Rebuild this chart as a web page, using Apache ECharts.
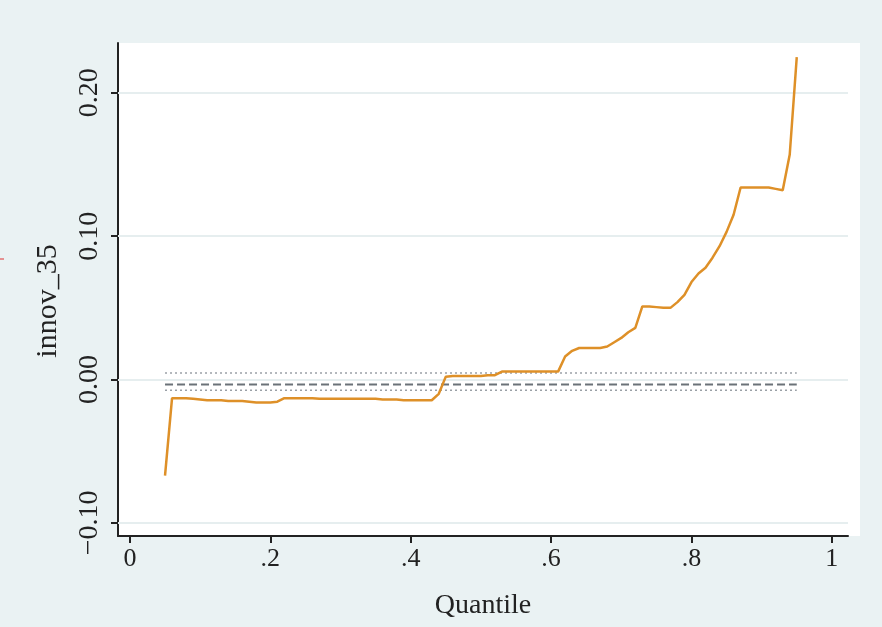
<!DOCTYPE html>
<html>
<head>
<meta charset="utf-8">
<script src="https://cdn.jsdelivr.net/npm/echarts@6/dist/echarts.min.js"></script>
<style>html,body{margin:0;padding:0;background:#eaf2f3;}#chart{width:882px;height:627px;}</style>
</head>
<body>
<div id="chart"></div>
<script>
// Quantiles and quantile-regression coefficients (innov_35)
const quantiles = [0.05,0.06,0.07,0.08,0.09,0.10,0.11,0.12,0.13,0.14,0.15,0.16,0.17,0.18,0.19,0.20,0.21,0.22,0.23,0.24,0.25,0.26,0.27,0.28,0.29,0.30,0.31,0.32,0.33,0.34,0.35,0.36,0.37,0.38,0.39,0.40,0.41,0.42,0.43,0.44,0.45,0.46,0.47,0.48,0.49,0.50,0.51,0.52,0.53,0.54,0.55,0.56,0.57,0.58,0.59,0.60,0.61,0.62,0.63,0.64,0.65,0.66,0.67,0.68,0.69,0.70,0.71,0.72,0.73,0.74,0.75,0.76,0.77,0.78,0.79,0.80,0.81,0.82,0.83,0.84,0.85,0.86,0.87,0.88,0.89,0.90,0.91,0.92,0.93,0.94,0.95];
const coefs = [-0.067,-0.013,-0.013,-0.013,-0.0135,-0.014,-0.0145,-0.0145,-0.0145,-0.015,-0.015,-0.015,-0.0155,-0.016,-0.016,-0.016,-0.0155,-0.013,-0.013,-0.013,-0.013,-0.013,-0.0135,-0.0135,-0.0135,-0.0135,-0.0135,-0.0135,-0.0135,-0.0135,-0.0135,-0.014,-0.014,-0.014,-0.0145,-0.0145,-0.0145,-0.0145,-0.0145,-0.010,0.002,0.0025,0.0025,0.0025,0.0025,0.0025,0.003,0.003,0.0055,0.0055,0.0055,0.0055,0.0055,0.0055,0.0055,0.0055,0.0055,0.016,0.020,0.022,0.022,0.022,0.022,0.023,0.026,0.029,0.033,0.036,0.051,0.051,0.0505,0.050,0.050,0.054,0.059,0.068,0.074,0.078,0.085,0.093,0.103,0.115,0.134,0.134,0.134,0.134,0.134,0.133,0.132,0.157,0.225];
// OLS estimate and its confidence bounds
const olsEstimate = -0.0035;
const olsUpper = 0.0045;
const olsLower = -0.0075;
const olsSpan = [0.05, 0.95];
// Tick values
const xTicks = [0, 0.2, 0.4, 0.6, 0.8, 1];
const xTickLabels = ['0', '.2', '.4', '.6', '.8', '1'];
const yTicks = [-0.1, 0, 0.1, 0.2];
const yTickLabels = ['\u22120.10', '0.00', '0.10', '0.20'];
const xTitle = 'Quantile';
const yTitle = 'innov_35';

const FONT = 'Liberation Serif';
const chart = echarts.init(document.getElementById('chart'));
const hLine = (v) => olsSpan.map(q => [q, v]);

chart.setOption({
  backgroundColor: '#eaf2f3',
  animation: false,
  grid: { left: 118, right: 34, top: 43, bottom: 91, show: true, backgroundColor: '#ffffff', borderWidth: 0 },
  xAxis: {
    type: 'value', min: -0.017, max: 1.023,
    name: xTitle, nameLocation: 'middle', nameGap: 56,
    nameTextStyle: { fontFamily: FONT, fontSize: 28, color: '#222' },
    axisLine: { show: true, onZero: false, lineStyle: { color: '#222', width: 2 } },
    axisTick: { show: true, length: 7, lineStyle: { color: '#222', width: 2 }, customValues: xTicks },
    axisLabel: { fontFamily: FONT, fontSize: 26, color: '#222', margin: 10, customValues: xTicks,
      formatter: (v) => { const i = xTicks.findIndex(t => Math.abs(t - v) < 1e-9); return i >= 0 ? xTickLabels[i] : ''; } },
    splitLine: { show: false }
  },
  yAxis: {
    type: 'value', min: -0.1092, max: 0.2348,
    axisLine: { show: true, onZero: false, lineStyle: { color: '#222', width: 2 } },
    axisTick: { show: true, length: 7, lineStyle: { color: '#222', width: 2 }, customValues: yTicks },
    axisLabel: { fontFamily: FONT, fontSize: 28, color: '#222', margin: 14, rotate: 90, customValues: yTicks,
      formatter: (v) => { const i = yTicks.findIndex(t => Math.abs(t - v) < 1e-9); return i >= 0 ? yTickLabels[i] : ''; } },
    splitLine: { show: false }
  },
  series: [
    {
      type: 'line', data: [], silent: true,
      markLine: { silent: true, symbol: 'none', label: { show: false },
        lineStyle: { color: '#e6eeef', width: 2, type: 'solid' },
        data: yTicks.map(v => ({ yAxis: v })) }
    },
    { type: 'line', data: hLine(olsUpper), symbol: 'none', lineStyle: { color: '#9aa0a6', width: 1.5, type: [2, 3] }, z: 3 },
    { type: 'line', data: hLine(olsEstimate), symbol: 'none', lineStyle: { color: '#6b7278', width: 2, type: [8, 4] }, z: 3 },
    { type: 'line', data: hLine(olsLower), symbol: 'none', lineStyle: { color: '#9aa0a6', width: 1.5, type: [2, 3] }, z: 3 },
    {
      type: 'line', data: quantiles.map((q, i) => [q, coefs[i]]), symbol: 'none',
      lineStyle: { color: '#de9028', width: 2.5 }, z: 5
    }
  ],
  graphic: [
    { type: 'rect', z: -1, shape: { x: 848, y: 43, width: 12, height: 493 }, style: { fill: '#ffffff' } },
    { type: 'text', x: 48, y: 301, rotation: Math.PI / 2,
      style: { text: yTitle, fontFamily: FONT, fontSize: 30, fill: '#222', align: 'center', verticalAlign: 'middle' } },
    { type: 'line', shape: { x1: 0, y1: 259, x2: 4, y2: 259 }, style: { stroke: '#e03030', lineWidth: 1 } }
  ]
});
</script>
</body>
</html>
